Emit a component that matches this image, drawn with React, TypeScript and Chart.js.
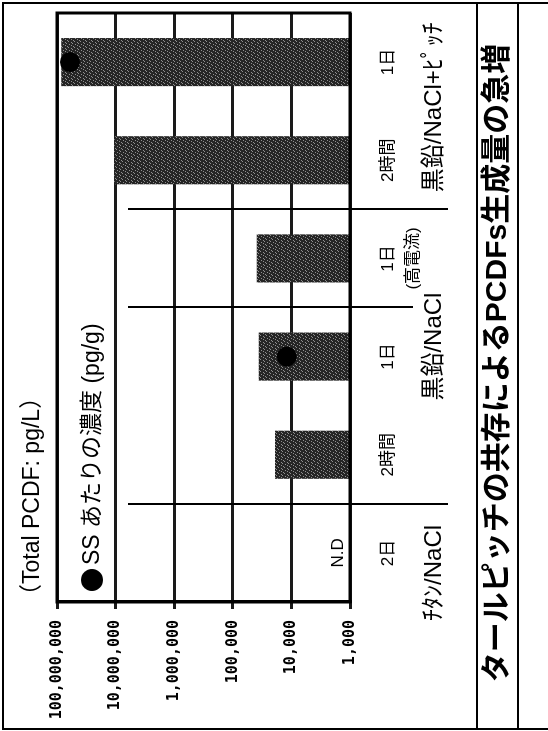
import React, { useEffect, useRef } from "react";
import { Chart, registerables } from "chart.js";

Chart.register(...registerables);

// Conditions (one bar each) and the groups they belong to
const CATEGORIES = ["2日", "2時間", "1日", "1日", "2時間", "1日"];
const CATEGORY_NOTES = ["", "", "", "(高電流)", "", ""];
const GROUPS = ["ﾁﾀﾝ/NaCl", "黒鉛/NaCl", "黒鉛/NaCl+ﾋﾟｯﾁ"];
const GROUP_SIZES = [1, 3, 2];
// Extra divider inside a group (before this category index)
const SUB_BREAKS = [3];

// Total PCDF (pg/L); null = not detected
const PCDF_TOTAL = [null, 19000, 36000, 39000, 10500000, 85000000];
// Concentration per SS (pg/g)
const SS_CONC = [null, null, 12000, null, null, 60000000];

const Y_TICKS = [1000, 10000, 100000, 1000000, 10000000, 100000000];
const ND_LABEL = "N.D";

const TITLE = "タールピッチの共存によるPCDFs生成量の急増";
const Y_TITLE = "（Total PCDF: pg/L）";
const LEGEND_LABEL = "SS あたりの濃度 (pg/g)";

const W = 731;
const H = 548;
const SANS = '"Liberation Sans", "Noto Sans CJK JP", sans-serif';
const MONO = '"DejaVu Sans Mono", monospace';

function makeStipple(): CanvasPattern | string {
  const tile = document.createElement("canvas");
  tile.width = 6;
  tile.height = 6;
  const t = tile.getContext("2d");
  if (!t) return "#373737";
  t.fillStyle = "#252525";
  t.fillRect(0, 0, 6, 6);
  t.fillStyle = "#8e8e8e";
  const specks = [
    [0, 1], [3, 0], [5, 2], [2, 3], [4, 5], [1, 5],
  ];
  specks.forEach(([x, y]) => t.fillRect(x, y, 1, 1));
  const ctx = document.createElement("canvas").getContext("2d");
  return (ctx && ctx.createPattern(tile, "repeat")) || "#373737";
}

const decorPlugin = {
  id: "decor",
  beforeDraw(chart: any) {
    const ctx = chart.ctx;
    ctx.save();
    ctx.fillStyle = "#fff";
    ctx.fillRect(0, 0, chart.width, chart.height);
    ctx.restore();
  },
  afterDraw(chart: any) {
    const ctx: CanvasRenderingContext2D = chart.ctx;
    const { left, right, top, bottom } = chart.chartArea;
    const xs = chart.scales.x;
    ctx.save();
    ctx.strokeStyle = "#000";
    ctx.fillStyle = "#000";

    // plot frame
    ctx.lineWidth = 3;
    ctx.strokeRect(left, top, right - left, bottom - top);

    // dividers between groups and sub-conditions
    ctx.lineWidth = 2;
    let start = 0;
    const groupStarts: number[] = [];
    GROUP_SIZES.forEach((n) => {
      groupStarts.push(start);
      start += n;
    });
    const sepTop = 128;
    groupStarts.slice(1).forEach((s) => {
      const x = Math.round(xs.getPixelForValue(s - 0.5));
      ctx.beginPath();
      ctx.moveTo(x, sepTop);
      ctx.lineTo(x, bottom + 98);
      ctx.stroke();
    });
    SUB_BREAKS.forEach((s) => {
      const x = Math.round(xs.getPixelForValue(s - 0.5));
      ctx.beginPath();
      ctx.moveTo(x, sepTop);
      ctx.lineTo(x, bottom + 63);
      ctx.stroke();
    });

    // condition labels
    ctx.textAlign = "center";
    ctx.textBaseline = "middle";
    ctx.font = `17px ${SANS}`;
    CATEGORIES.forEach((c, i) => {
      const x = xs.getPixelForValue(i);
      ctx.fillText(c, x, bottom + 38);
      if (CATEGORY_NOTES[i]) ctx.fillText(CATEGORY_NOTES[i], x, bottom + 63);
    });

    // group labels
    ctx.font = `24px ${SANS}`;
    const groupShift = [-20, 10, 4];
    GROUPS.forEach((g, gi) => {
      const s = groupStarts[gi];
      const e = s + GROUP_SIZES[gi] - 1;
      const x = (xs.getPixelForValue(s) + xs.getPixelForValue(e)) / 2 + groupShift[gi];
      ctx.fillText(g, x, bottom + 84);
    });

    // not-detected marker
    ctx.font = `17px ${SANS}`;
    PCDF_TOTAL.forEach((v, i) => {
      if (v === null) ctx.fillText(ND_LABEL, xs.getPixelForValue(i), bottom - 12);
    });

    // axis title and legend
    ctx.textAlign = "left";
    ctx.font = `23px ${SANS}`;
    ctx.fillText(Y_TITLE, 124, 33);
    ctx.beginPath();
    ctx.arc(151, 92, 11, 0, Math.PI * 2);
    ctx.fill();
    ctx.fillText(LEGEND_LABEL, 166, 93);

    // outer frame and title box
    ctx.lineWidth = 2;
    ctx.beginPath();
    ctx.moveTo(2, H);
    ctx.lineTo(2, 3);
    ctx.lineTo(728, 3);
    ctx.lineTo(728, H);
    ctx.moveTo(2, 477);
    ctx.lineTo(728, 477);
    ctx.moveTo(2, 518);
    ctx.lineTo(728, 518);
    ctx.stroke();

    ctx.textAlign = "center";
    ctx.font = `bold 30px ${SANS}`;
    ctx.fillText(TITLE, 368, 498);
    ctx.restore();
  },
};

export default function App() {
  const canvasRef = useRef<HTMLCanvasElement | null>(null);

  useEffect(() => {
    const canvas = canvasRef.current;
    if (!canvas) return;
    const fill = makeStipple();
    const chart = new Chart(canvas, {
      type: "bar",
      data: {
        labels: CATEGORIES,
        datasets: [
          {
            type: "line",
            label: LEGEND_LABEL,
            data: SS_CONC as any,
            showLine: false,
            pointRadius: 10,
            pointHoverRadius: 10,
            pointBackgroundColor: "#000",
            pointBorderWidth: 0,
            order: 0,
          } as any,
          {
            type: "bar",
            label: "Total PCDF",
            data: PCDF_TOTAL as any,
            backgroundColor: fill as any,
            borderWidth: 0,
            barPercentage: 0.49,
            categoryPercentage: 1,
            order: 1,
          },
        ],
      },
      options: {
        responsive: false,
        animation: false,
        devicePixelRatio: 1,
        events: [],
        layout: { padding: { top: 57, right: 13, bottom: 198, left: 0 } },
        plugins: {
          legend: { display: false },
          tooltip: { enabled: false },
          title: { display: false },
        },
        scales: {
          x: { display: false, offset: true },
          y: {
            type: "logarithmic",
            min: 1000,
            max: 100000000,
            afterFit(scale: any) {
              scale.width = 129;
            },
            afterBuildTicks(scale: any) {
              scale.ticks = Y_TICKS.map((v) => ({ value: v }));
            },
            ticks: {
              autoSkip: false,
              padding: 11,
              color: "#000",
              font: { family: MONO, size: 15, weight: "bold" },
              callback: (v: any) => Number(v).toLocaleString("en-US"),
            },
            grid: {
              color: "#1a1a1a",
              lineWidth: 3,
              tickLength: 7,
              drawTicks: true,
            },
            border: { display: true, color: "#000", width: 3 },
          },
        },
      },
      plugins: [decorPlugin],
    });
    return () => chart.destroy();
  }, []);

  return (
    <div
      style={{
        position: "fixed",
        left: 0,
        top: 0,
        width: W,
        height: H,
        transformOrigin: "0 0",
        transform: `translateY(${W}px) rotate(-90deg)`,
        background: "#fff",
      }}
    >
      <canvas ref={canvasRef} width={W} height={H} style={{ display: "block" }} />
    </div>
  );
}
